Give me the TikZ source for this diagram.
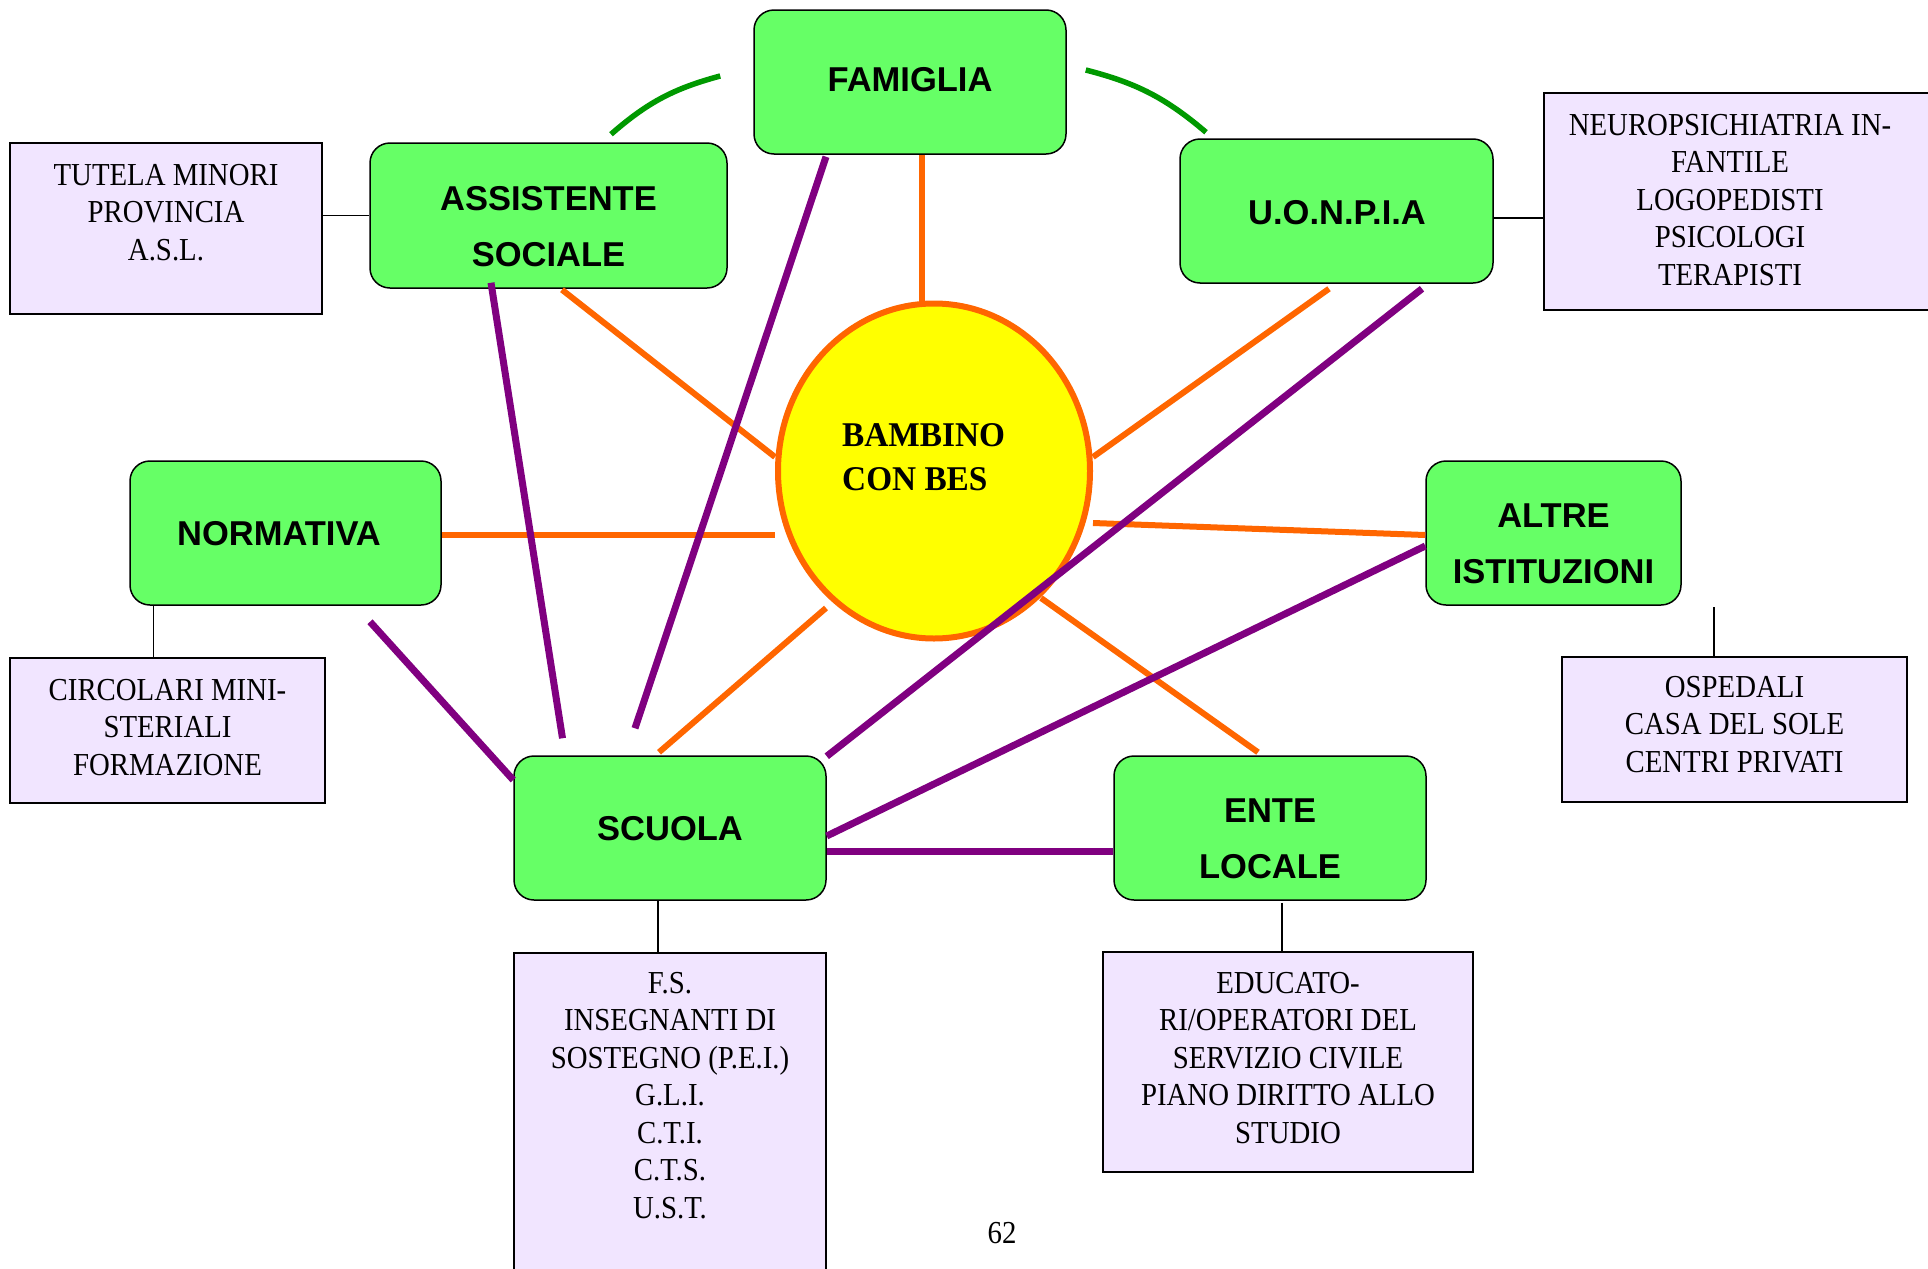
\documentclass[tikz,border=0pt]{standalone}
\usepackage{fontspec}
\usetikzlibrary{shapes.geometric,calc}
\newfontfamily\gfont{Liberation Sans}
\newfontfamily\sfnt{Liberation Serif}[FakeStretch=0.9]
\newfontfamily\bfnt{Liberation Serif}[FakeStretch=0.96]
\definecolor{gfill}{RGB}{102,255,102}
\definecolor{lfill}{RGB}{241,229,255}
\definecolor{orng}{RGB}{255,102,0}
\definecolor{purp}{RGB}{128,0,128}
\definecolor{dgreen}{RGB}{0,153,0}
\definecolor{yfill}{RGB}{255,255,0}
\tikzset{
  gbox/.style={draw=black, line width=1.5pt, fill=gfill, rounded corners=20pt, inner sep=0pt},
  lbox/.style={draw=black, line width=2pt, fill=lfill, inner sep=0pt},
  gtext/.style={font=\gfont\bfseries\fontsize{34.5}{56}\selectfont, align=center, inner sep=0pt, anchor=base},
  ltext/.style={font=\sfnt\fontsize{32}{37.5}\selectfont, align=center, inner sep=0pt, anchor=base},
  oline/.style={draw=orng, line width=6pt},
  pline/.style={draw=purp, line width=7pt},
  gline/.style={draw=dgreen, line width=5.5pt},
  thin/.style={draw=black, line width=1.5pt}
}
\begin{document}
\begin{tikzpicture}[x=1pt,y=-1pt]
\useasboundingbox (0,0) rectangle (1928,1269);
\clip (0,0) rectangle (1928,1269);
\fill[white] (0,0) rectangle (1928,1269);
% green boxes
\node[gbox, minimum width=312pt, minimum height=144pt] (fam) at (910,82) {};
\node[gbox, minimum width=357pt, minimum height=145pt] (as) at (548.5,215.5) {};
\node[gbox, minimum width=313pt, minimum height=144pt] (uo) at (1336.5,211) {};
\node[gbox, minimum width=311pt, minimum height=144pt] (no) at (285.5,533) {};
\node[gbox, minimum width=255pt, minimum height=144pt] (al) at (1553.5,533) {};
\node[gbox, minimum width=312pt, minimum height=144pt] (sc) at (670,828) {};
\node[gbox, minimum width=312pt, minimum height=144pt] (en) at (1270,828) {};
% lilac boxes
\node[lbox, minimum width=312pt, minimum height=171pt] (tut) at (166,228.5) {};
\node[lbox, minimum width=400pt, minimum height=217pt, anchor=west] (neu) at (1543,201.5) {};
\node[lbox, minimum width=315pt, minimum height=145pt] (cir) at (167.5,730.5) {};
\node[lbox, minimum width=345pt, minimum height=145pt] (osp) at (1734.5,729.5) {};
\node[lbox, minimum width=312pt, minimum height=340pt, anchor=north] (fs) at (670,952) {};
\node[lbox, minimum width=370pt, minimum height=220pt] (edu) at (1288,1062) {};
% central ellipse
\node[ellipse, draw=orng, line width=6pt, fill=yfill, minimum width=312pt, minimum height=335pt, inner sep=0pt] (bam) at (934,471) {};
% texts (anchor base = baseline of the last line)
\node[gtext] (fam-t) at ($(fam.center)+(0,9)$) {FAMIGLIA};
\node[gtext] (as-t) at ($(as.center)+(0,50.5)$) {ASSISTENTE\\SOCIALE};
\node[gtext] (uo-t) at ($(uo.center)+(0.5,13)$) {U.O.N.P.I.A};
\node[gtext] (no-t) at ($(no.center)+(-6.5,12)$) {NORMATIVA};
\node[gtext] (al-t) at ($(al.center)+(0,50)$) {ALTRE\\ISTITUZIONI};
\node[gtext] (sc-t) at ($(sc.center)+(0,12)$) {SCUOLA};
\node[gtext] (en-t) at ($(en.center)+(0,50)$) {ENTE\\LOCALE};
\node[ltext] (tut-t) at ($(tut.north)+(0,118)$) {TUTELA MINORI\\PROVINCIA\\A.S.L.};
\node[ltext] (neu-t) at (1730,285) {NEUROPSICHIATRIA IN-\\FANTILE\\LOGOPEDISTI\\PSICOLOGI\\TERAPISTI};
\node[ltext] (cir-t) at ($(cir.north)+(0,118)$) {CIRCOLARI MINI-\\STERIALI\\FORMAZIONE};
\node[ltext] (osp-t) at ($(osp.north)+(0,116)$) {OSPEDALI\\CASA DEL SOLE\\CENTRI PRIVATI};
\node[ltext] (fs-t) at ($(fs.north)+(0,266)$) {F.S.\\INSEGNANTI DI\\SOSTEGNO (P.E.I.)\\G.L.I.\\C.T.I.\\C.T.S.\\U.S.T.};
\node[ltext] (edu-t) at ($(edu.north)+(0,192)$) {EDUCATO-\\RI/OPERATORI DEL\\SERVIZIO CIVILE\\PIANO DIRITTO ALLO\\STUDIO};
\node[font=\bfnt\bfseries\fontsize{34.7}{44}\selectfont, align=left, inner sep=0pt, anchor=base west] (bam-t) at (842,490) {BAMBINO\\CON BES};
\node[ltext] (page) at (1002,1243) {62};
% thin connectors
\draw[thin] (tut.east |- as.west) -- (as.west);
\draw[thin] ($(uo.east)+(0,7)$) coordinate (uoe) -- (uoe -| neu.west);
\draw[thin] ($(no.south west)+(24,0)$) coordinate (nos) -- (nos |- cir.north);
\draw[thin] ($(osp.north)+(-20.5,-49)$) -- ($(osp.north)+(-20.5,0)$);
\draw[thin] ($(sc.south)+(-12,0)$) coordinate (scs) -- (scs |- fs.north);
\draw[thin] ($(en.south)+(12,2)$) coordinate (ens) -- (ens |- edu.north);
% green arcs
\draw[gline] ($(as.north)+(62.5,-8)$) to[bend left=13] ($(fam.west)+(-33,-6)$);
\draw[gline] ($(fam.east)+(19,-12)$) to[bend left=13] ($(uo.north)+(-130.5,-6)$);
% orange connectors
\draw[oline] ($(fam.south)+(12,0)$) coordinate (fms) -- (bam.north -| fms);
\draw[oline] ($(as.south)+(13.5,1)$) -- ($(bam.west)+(0,-14)$);
\draw[oline] ($(uo.south)+(-7.5,5)$) -- ($(bam.east)+(0,-14)$);
\draw[oline] ($(no.east)+(0,2)$) coordinate (noe) -- (noe -| bam.west);
\draw[oline] ($(al.west)+(0,2)$) -- ($(bam.east)+(0,52)$);
\draw[oline] ($(sc.north)+(-11,-3)$) -- ($(bam.center)+(-108,137)$);
\draw[oline] ($(en.north)+(-12,-3)$) -- ($(bam.center)+(107,127)$);
% purple connectors
\draw[pline] ($(as.south)+(-57.5,-6)$) -- ($(sc.north)+(-107.5,-17)$);
\draw[pline] ($(fam.south)+(-84,2)$) -- ($(sc.north)+(-35,-27)$);
\draw[pline] ($(no.south)+(84.5,16)$) -- ($(sc.west)+(0,-48)$);
\draw[pline] ($(uo.south)+(85.5,5)$) -- ($(sc.north east)+(0,1)$);
\draw[pline] ($(al.west)+(0,13)$) -- ($(sc.east)+(0,8)$);
\draw[pline] ($(sc.east)+(0,23)$) coordinate (sce) -- (sce -| en.west);
\end{tikzpicture}
\end{document}
